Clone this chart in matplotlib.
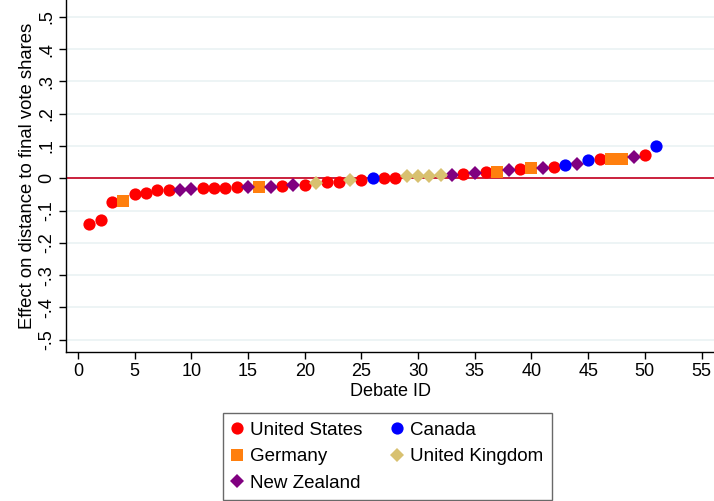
import matplotlib
matplotlib.use('agg')
import matplotlib.pyplot as plt
import numpy as np

plt.rcParams['font.family'] = ['Liberation Sans', 'DejaVu Sans']

# values, sorted by debate id
debate_id = list(range(1, 52))
effect = [-0.141, -0.128, -0.072, -0.070, -0.049, -0.045, -0.036, -0.036,
          -0.036, -0.033, -0.031, -0.031, -0.029, -0.027, -0.027, -0.027,
          -0.027, -0.024, -0.021, -0.020, -0.016, -0.011, -0.011, -0.004,
          -0.004, 0.000, 0.002, 0.002, 0.007, 0.007, 0.007, 0.009,
          0.011, 0.014, 0.017, 0.020, 0.020, 0.026, 0.028, 0.033,
          0.033, 0.034, 0.041, 0.044, 0.057, 0.060, 0.060, 0.060,
          0.067, 0.073, 0.100]
country = ['US', 'US', 'US', 'DE', 'US', 'US', 'US', 'US', 'NZ', 'NZ',
           'US', 'US', 'US', 'US', 'NZ', 'DE', 'NZ', 'US', 'NZ', 'US',
           'UK', 'US', 'US', 'UK', 'US', 'CA', 'US', 'US', 'UK', 'UK',
           'UK', 'UK', 'NZ', 'US', 'NZ', 'US', 'DE', 'NZ', 'US', 'DE',
           'NZ', 'US', 'CA', 'NZ', 'CA', 'US', 'DE', 'DE', 'NZ', 'US',
           'CA']

legend_order = ['US', 'DE', 'NZ', 'CA', 'UK']
names = {'US': 'United States', 'CA': 'Canada', 'DE': 'Germany',
         'UK': 'United Kingdom', 'NZ': 'New Zealand'}
styles = {'US': ('o', '#FF0000', 8.8),
          'CA': ('o', '#0000FF', 8.8),
          'DE': ('s', '#FF7F0E', 8.2),
          'UK': ('D', '#D8C170', 7.3),
          'NZ': ('D', '#800080', 7.3)}

y_ticks = np.round(np.arange(-0.5, 0.51, 0.1), 1)
x_ticks = list(range(0, 56, 5))

fig = plt.figure(figsize=(7.14, 5.01), dpi=100)
ax = fig.add_axes([66 / 714, 1 - 351.7 / 501, 648 / 714, 351.7 / 501])

x = np.array(debate_id)
y = np.array(effect)
c = np.array(country)

for k in legend_order:
    m, col, ms = styles[k]
    sel = c == k
    ax.plot(x[sel], y[sel], linestyle='none', marker=m, color=col,
            markersize=ms, markeredgewidth=0, label=names[k], zorder=3)

ax.axhline(0, color='#C8102E', lw=1.3, zorder=2)

ax.set_xlim(-1.06, 56.1)
ax.set_ylim(-0.537, 0.552)
ax.set_yticks(y_ticks)
ax.set_xticks(x_ticks)


def fmt(v):
    if abs(v) < 1e-9:
        return '0'
    s = '%.1f' % v
    return s.replace('0.', '.')


ax.set_yticklabels([fmt(v) for v in y_ticks], rotation=90, va='center')
ax.grid(axis='y', color='#EAF2F3', lw=1.2, zorder=0)
ax.tick_params(axis='both', direction='out', length=5, width=1,
               labelsize=13, colors='black', pad=3)

for s in ['top', 'right']:
    ax.spines[s].set_visible(False)
for s in ['left', 'bottom']:
    ax.spines[s].set_linewidth(1)

ax.set_xlabel('Debate ID', fontsize=13, labelpad=2)
ax.set_ylabel('Effect on distance to final vote shares', fontsize=13.3,
              labelpad=1)

leg = fig.legend(loc='upper left',
                 bbox_to_anchor=(222.7 / 714, 1 - 413 / 501),
                 borderaxespad=0,
                 ncol=2, fontsize=13.5, frameon=True, fancybox=False,
                 edgecolor='#444444', handletextpad=0.4, columnspacing=1.55,
                 labelspacing=0.5, borderpad=0.45, handlelength=0.6)
leg.get_frame().set_linewidth(1)

plt.savefig('out.png', dpi=100)
